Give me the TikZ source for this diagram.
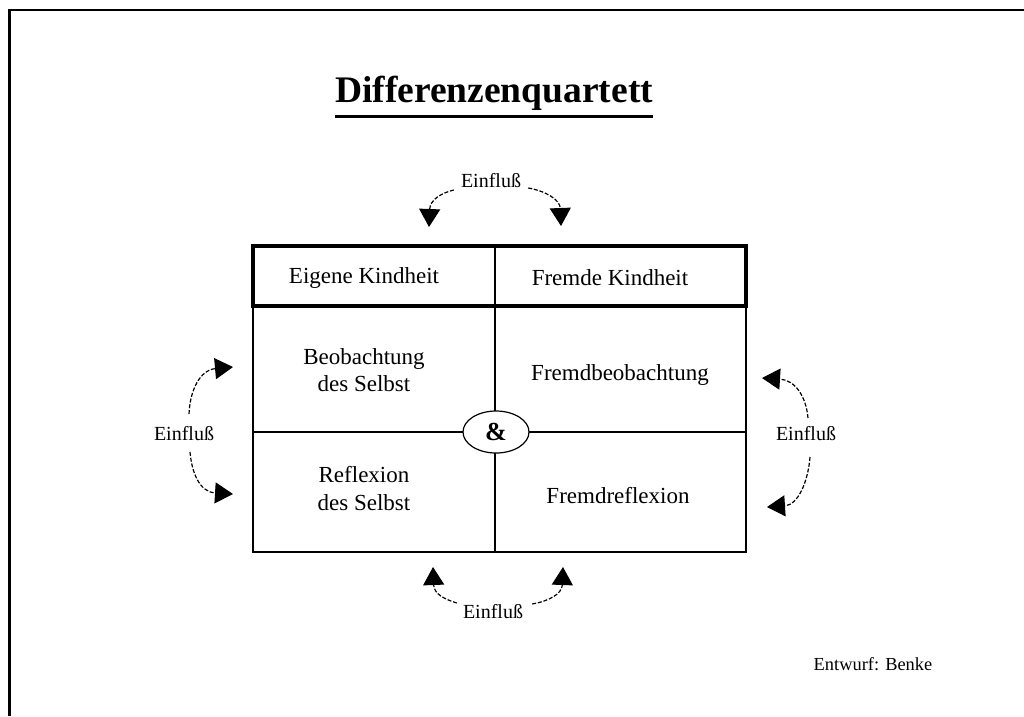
\documentclass[tikz,border=0pt]{standalone}
\usepackage{fontspec}
\setmainfont{Liberation Serif}
\usetikzlibrary{arrows.meta,shapes.geometric}
\begin{document}
\begin{tikzpicture}[x=1pt,y=-1pt,
  celltext/.style={font=\fontsize{23}{27}\selectfont,anchor=base,inner sep=0pt},
  eintext/.style={font=\fontsize{20}{24}\selectfont,anchor=base,inner sep=0pt},
  infl/.style={line width=1.2pt,dash pattern=on 4pt off 1.8pt,
    -{Triangle[length=18pt,width=21pt]}},
  thickframe/.style={line width=3.5pt},
  thinframe/.style={line width=2pt},
  divider/.style={line width=1.6pt}]
\useasboundingbox (0,0) rectangle (1024,716);
\fill[white] (0,0) rectangle (1024,716);
% outer border (top and left)
\draw[line width=2.5pt] (8,10) -- (1024,10);
\draw[line width=3pt] (9,9) -- (9,716);
% title
\node[font=\fontsize{37.5}{42}\selectfont\bfseries,anchor=base,inner sep=0pt] (title) at (494,102) {Differenzenquartett};
\draw[line width=3pt] (title.base west |- 0,116.5) -- (title.base east |- 0,116.5);
% table
\coordinate (tl) at (253,246);
\coordinate (br) at (746,552);
\coordinate (hb) at (746,306);
\draw[divider] (495,246) -- (495,552);
\draw[divider] (253,432) -- (746,432);
\draw[thinframe] (253,306) rectangle (br);
\draw[thickframe] (tl) rectangle (hb);
% cell texts
\node[celltext] (eig) at (364,283) {Eigene Kindheit};
\node[celltext] (fre) at (610,285) {Fremde Kindheit};
\node[celltext] (beo1) at (364,364) {Beobachtung};
\node[celltext] (beo2) at (364,391) {des Selbst};
\node[celltext] (fbeo) at (620,380) {Fremdbeobachtung};
\node[celltext] (ref1) at (364,482) {Reflexion};
\node[celltext] (ref2) at (364,510) {des Selbst};
\node[celltext] (fref) at (618,503) {Fremdreflexion};
% ampersand
\node[ellipse,draw,line width=1.2pt,fill=white,minimum width=66pt,minimum height=42pt,inner sep=0pt,
  font=\fontsize{26}{30}\selectfont\bfseries] (amp) at (496,432) {\&};
% Einfluss labels
\node[eintext] (eT) at (491,187) {Einfluß};
\node[eintext] (eB) at (493,618) {Einfluß};
\node[eintext] (eL) at (184,440) {Einfluß};
\node[eintext] (eR) at (806,440) {Einfluß};
\node[font=\fontsize{18.4}{22}\selectfont,anchor=base,inner sep=0pt] (entw) at (873,670) {Entwurf: Benke};
% arrow tips
\coordinate (tTL) at (429,227);
\coordinate (tTR) at (561,226);
\coordinate (tBL) at (433,567);
\coordinate (tBR) at (563,567);
\coordinate (tLT) at (233,367);
\coordinate (tLB) at (233,494);
\coordinate (tRT) at (762,378);
\coordinate (tRB) at (767,507);
% arrows
\draw[infl] (eT.west |- 0,190) ++(-7,0) .. controls (441,193) and (430,200) .. (tTL);
\draw[infl] (eT.east |- 0,188) ++(7,0) .. controls (546,191) and (560,200) .. (tTR);
\draw[infl] (eB.west |- 0,603) ++(-6,0) .. controls (444,599) and (434,594) .. (tBL);
\draw[infl] (eB.east |- 0,604) ++(9,0) .. controls (549,601) and (562,594) .. (tBR);
\draw[infl] (eL.north |- 0,414) ++(5,0) .. controls (190,390) and (200,370) .. (tLT);
\draw[infl] (eL.south |- 0,452) ++(6,0) .. controls (192,474) and (200,492) .. (tLB);
\draw[infl] (eR.north |- 0,418) ++(2,0) .. controls (806,396) and (795,380) .. (tRT);
\draw[infl] (eR.south |- 0,457) ++(4,0) .. controls (808,482) and (798,505) .. (tRB);
\end{tikzpicture}
\end{document}
